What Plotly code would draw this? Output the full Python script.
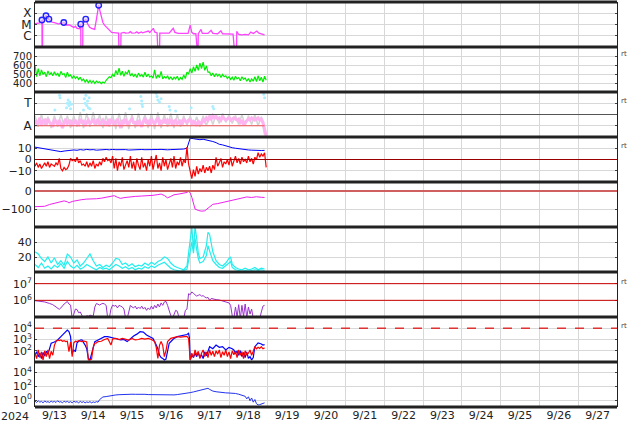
import plotly.graph_objects as go
from plotly.subplots import make_subplots
import pandas as pd

T0 = pd.Timestamp("2024-09-13 00:00")
X_START, X_END = "2024-09-13 00:00", "2024-09-28 00:00"
HOURLY = list(range(144))
BIHOURLY = list(range(0, 144, 2))

# ---------- panel 1: X-ray flux (W/m^2) ----------
xray_hours = [0, 1, 2, 3, 4, 4.3, 4.4, 4.6, 4.7, 5.5, 6.3, 6.8, 7.5, 8.6, 9.5, 10.5, 12, 13.5, 14.8, 15.5,
              16.5, 17.8, 18.8, 19.7, 21, 22.8, 24, 25, 26, 27.7, 28.0, 28.3, 28.4, 29.5, 29.6, 30.5, 31.4,
              32.5, 33.8, 35, 36.9, 37.8, 38.6, 39.4, 40, 41.2, 42, 43, 44.5, 45.5, 47.4, 50, 51.7, 52, 53,
              53.2, 55, 56, 58, 59, 60, 62, 63, 64, 65.8, 66.5, 68, 70.1, 71, 73.2, 74, 75.5, 76.2, 77, 77.2,
              79, 81, 83, 85.5, 86.5, 88.6, 91, 93, 94.7, 96, 97, 98, 99.5, 100, 100.8, 101, 102.7, 103.5,
              105, 107, 108.9, 110, 113, 115, 116, 119.3, 121, 122.5, 123.8, 124.6, 124.8, 126, 128, 130,
              132, 133.5, 135, 137.2, 138.5, 140, 142]
xray_flux = [1.2e-5, 1.25e-5, 1.3e-5, 1.4e-5, 2.0e-5, 2.5e-5, 1e-8, 1e-8, 2.2e-5, 3.5e-5, 5e-5, 6e-5, 4e-5,
             3e-5, 2.2e-5, 1.6e-5, 1.5e-5, 1.3e-5, 1.1e-5, 1.3e-5, 1.2e-5, 1.5e-5, 1.1e-5, 8.7e-6, 9.5e-6,
             6.5e-6, 5.5e-6, 7e-6, 4.6e-6, 4.2e-6, 6e-6, 1.07e-5, 1e-8, 1e-8, 1.2e-5, 2e-5, 3e-5, 1.2e-5,
             5.6e-6, 4.5e-6, 3.7e-6, 2e-5, 1.5e-4, 5.2e-4, 2e-4, 3.5e-5, 1.5e-5, 8.7e-6, 5e-6, 3.7e-6, 2e-6,
             1.8e-6, 1.7e-6, 1e-8, 1e-8, 1.7e-6, 2e-6, 1.7e-6, 1.8e-6, 2.3e-6, 1.7e-6, 1.8e-6, 2.2e-6,
             1.7e-6, 2.2e-6, 1.8e-6, 2.0e-6, 2.6e-6, 1.9e-6, 4.6e-6, 2.2e-6, 1.8e-6, 1e-8, 1e-8, 1.7e-6,
             1.7e-6, 1.6e-6, 1.7e-6, 4.6e-6, 2e-6, 1.6e-6, 1.5e-6, 1.6e-6, 1.6e-6, 8.7e-6, 2e-6, 1.5e-6,
             1.5e-6, 1e-8, 1e-8, 1.5e-6, 3.7e-6, 1.6e-6, 1.5e-6, 1.6e-6, 3e-6, 1.6e-6, 1.5e-6, 2.8e-6,
             1.5e-6, 1.4e-6, 1.4e-6, 1.4e-6, 1e-8, 1e-8, 2.5e-6, 1.3e-6, 1.2e-6, 1.3e-6, 1.2e-6, 2.1e-6,
             1.6e-6, 2.6e-6, 1.7e-6, 1.4e-6, 1.2e-6]
flare_hours = [4.3, 6.8, 8.6, 17.8, 28.3, 31.4, 39.4]
flare_flux = [2.5e-5, 6e-5, 3e-5, 1.5e-5, 1.07e-5, 3e-5, 5.2e-4]

# ---------- panel 2: solar wind speed (km/s), hourly ----------
speed = [600, 470, 560, 480, 545, 495, 520, 470, 535, 490, 515, 480,
         525, 485, 510, 470, 530, 495, 505, 460, 520, 475, 490, 455,
         480, 450, 470, 440, 465, 425, 445, 410, 435, 405, 430, 400,
         425, 395, 420, 405, 415, 392, 410, 400, 430, 445, 470, 460,
         495, 470, 540, 490, 565, 485, 530, 475, 520, 500, 545, 480,
         505, 470, 500, 460, 510, 475, 495, 465, 520, 470, 500, 465,
         480, 455, 545, 450, 490, 460, 530, 445, 470, 455, 480, 440,
         470, 435, 465, 445, 475, 430, 460, 440, 490, 450, 520, 500,
         560, 510, 580, 530, 600, 540, 620, 560, 633, 540, 590, 520,
         520, 480, 510, 470, 505, 475, 500, 460, 495, 470, 480, 450,
         470, 440, 465, 430, 475, 445, 460, 425, 470, 440, 455, 420,
         450, 410, 445, 420, 470, 415, 480, 425, 465, 410, 475, 430]

# ---------- panel 3: T / A levels ----------
mag_pink = [1.5, 1.2, 1.3, 1.7, 1.0, 1.4, 1.5, 1.1, 1.6, 1.3, 1.2, 0.9,
            1.6, 1.4, 1.1, 1.5, 1.2, 0.8, 1.3, 1.6, 1.2, 1.4, 1.5, 1.0,
            1.3, 1.5, 1.2, 1.1, 1.6, 1.3, 1.4, 1.0, 1.3, 1.5, 1.2, 1.4,
            1.5, 1.2, 1.3, 1.6, 1.1, 1.3, 1.5, 1.2, 1.4, 1.0, 1.6, 1.3,
            1.5, 1.1, 1.4, 1.6, 1.2, 0.8, 1.5, 1.3, 1.6, 1.1, 1.3, 1.5,
            1.6, 1.2, 1.4, 1.0, 1.5, 1.3, 0.9, 1.4, 1.7, 1.2, 1.5, 1.1,
            1.6, 1.3, 1.2, 1.5, 1.7, 1.1, 1.4, 1.3, 1.6, 1.2, 1.5, 1.3,
            1.6, 1.0, 1.4, 1.5, 1.2, 1.3, 1.5, 1.1, 1.6, 1.4, 1.3, 1.5,
            1.5, 1.2, 1.4, 1.3, 1.0, 1.4, 1.3, 1.2, 1.6, 1.4, 1.7, 1.5,
            1.8, 1.6, 1.9, 1.7, 1.8, 1.6, 1.7, 1.5, 1.8, 1.6, 1.5, 1.6,
            1.7, 1.5, 1.6, 1.7, 1.6, 1.5, 1.6, 1.3, 1.5, 1.1, 1.3, 1.5,
            1.6, 1.5, 1.7, 1.6, 1.5, 1.6, 1.7, 1.5, 1.6, 1.3, 0.6, 0.1]
mag_gray = [1.9, 0.9, 2.0, 1.0, 1.8, 0.8, 1.9, 0.9, 2.0, 1.0, 1.9, 0.8,
            1.9, 0.9, 2.2, 0.8, 2.1, 0.9, 2.2, 1.0, 2.0, 0.8, 1.9, 0.9,
            2.0, 0.7, 2.1, 0.8, 2.2, 0.7, 2.0, 0.8, 2.1, 0.9, 2.0, 0.8,
            2.1, 0.7, 2.2, 0.8, 2.0, 0.9, 2.1, 0.8, 2.0, 0.9, 1.9, 1.0,
            1.9, 1.0, 1.8, 0.9, 1.9, 1.0, 2.0, 1.1, 2.0, 1.2, 2.1, 1.3,
            2.0, 1.2, 1.9, 1.1, 2.0, 1.0, 1.9, 1.1, 2.0, 1.0, 1.8, 0.2]
cyan_hours = [12.3, 15.2, 15.5, 19.5, 20, 20.5, 21, 21.5, 22, 22.5, 30, 30.5, 31, 31.5, 32, 32.5, 33, 33.5,
              34, 58.5, 65.5, 66, 66.2, 66.5, 75, 75.5, 76, 77, 78, 83, 83.5, 87, 96.6, 110, 110.5, 141.5, 142]
cyan_vals = [2.4, 3.7, 3.5, 2.6, 3.0, 3.3, 2.8, 3.1, 2.5, 2.9, 2.4, 3.4, 3.0, 3.7, 2.8, 3.2, 2.6, 3.5,
             2.5, 2.5, 3.6, 3.2, 2.9, 2.7, 3.9, 3.6, 3.3, 3.1, 3.4, 2.7, 2.4, 2.3, 2.6, 2.7, 2.5, 3.8, 3.5]
a_level = 1
t_a_split = 2

# ---------- panel 4: IMF Bt (2-hourly) and Bz (hourly), nT ----------
bt = [11, 10.5, 10, 9.8, 9, 8.7, 8.3, 7.8, 7, 7.5, 8, 8.3,
      8.5, 8.2, 8.8, 8.4, 9, 8.6, 8.8, 8.3, 8.7, 8.5, 8.9, 8.6,
      9, 8.7, 8.9, 8.5, 8.8, 8.4, 8.6, 8.8, 8.5, 8.9, 8.7, 8.6,
      8.8, 8.5, 8.9, 9, 8.7, 8.6, 8.8, 8.9, 9.2, 9.5, 9.3, 10,
      19, 18.5, 18, 17.6, 18, 17.5, 17, 16, 15, 13.5, 13, 12,
      11, 10.5, 10, 9.5, 9, 8.8, 8.5, 8.3, 8, 8.2, 8, 8.1]
bz = [-6, -3, -7, -4, -8, -5, -3, -6, -2, -7, -4, -5,
      -6, -3, -5, 1, -8, -10, -7, -9, -8, -5, 1, -1,
      0, -2, 2, -3, -1, -5, -4, -6, -2, -7, -3, -6,
      -1, -8, -4, -6, -2, -5, 1, -2, 2, -1, 0, -3,
      3, -8, 1, -10, -2, -6, 2, -9, -4, -1, -7, 3,
      -8, -2, -10, 1, -5, -9, 2, -7, -3, -10, 0, -6,
      3, -9, -2, 4, -8, -3, -10, 2, -6, 0, -9, -4,
      1, -7, 3, -8, -2, -5, 2, -6, 0, -3, 11, -4,
      -12, -17, -9, -15, -6, -13, -8, -11, -5, -12, -7, -10,
      -6, -12, -5, -9, 2, -6, -3, 1, -7, -2, -4, 0,
      -5, 2, -6, -1, 3, -3, 1, -4, 2, -2, 0, -3,
      3, -2, 1, -4, 2, 0, 6, 2, 5, 3, 6, -7]

# ---------- panel 5: Dst (nT) ----------
dst_hours = [0, 3, 6, 9, 12, 15, 18, 20, 21, 23, 26, 29, 32, 35, 38, 41, 44, 47, 49, 51, 53, 55, 58, 62,
             66, 70, 73, 76, 78, 80, 82, 84, 86, 89, 92, 94, 95, 96, 97, 98, 99, 101, 103, 105, 107, 109,
             110, 113, 116, 119, 121, 123, 126, 129, 131, 134, 137, 140, 142]
dst_vals = [-87, -88, -85, -75, -68, -62, -55, -60, -66, -58, -52, -48, -45, -46, -43, -40, -36, -31, -26,
            -35, -41, -37, -33, -30, -28, -27, -24, -20, -17, -25, -38, -30, -21, -17, -13, -8, -2, -10,
            -35, -70, -100, -108, -112, -110, -97, -82, -74, -70, -64, -58, -52, -46, -42, -37, -33, -36,
            -32, -35, -36]

# ---------- panel 6: density-like (cyan, two traces) ----------
den_hours = [0, 2, 4, 6, 8, 10, 12, 14, 16, 18, 20, 22, 24, 26, 28, 30, 32, 34, 36, 38, 40, 42, 44, 46,
             48, 50, 52, 54, 56, 58, 60, 62, 64, 66, 68, 70, 72, 74, 76, 78, 80, 82, 84, 86, 88, 90, 92,
             94, 95, 96, 97, 98, 99, 100, 101, 102, 104, 106, 107, 108, 109, 110, 112, 114, 116, 118,
             120, 121, 122, 124, 126, 128, 130, 132, 134, 136, 138, 140, 142]
den_a = [27, 24, 18, 14, 20, 12, 19, 10, 15, 9, 24, 20, 12, 16, 8, 12, 18, 24, 15, 8, 10, 6, 9, 7,
         12, 18, 17, 10, 12, 8, 11, 7, 9, 8, 12, 9, 13, 10, 14, 16, 20, 18, 12, 8, 6, 4, 3,
         8, 25, 45, 60, 30, 60, 45, 25, 18, 20, 35, 53, 50, 40, 27, 15, 10, 8, 12,
         18, 20, 10, 6, 4, 3, 5, 3, 4, 6, 3, 5, 4]
den_b = [10, 6, 12, 5, 8, 4, 9, 6, 11, 5, 14, 8, 5, 9, 4, 6, 10, 7, 5, 3, 6, 4, 5, 3,
         6, 10, 8, 5, 7, 4, 6, 3, 5, 4, 7, 5, 8, 6, 9, 11, 13, 9, 5, 3, 2, 1, 2,
         4, 15, 30, 40, 25, 45, 30, 18, 12, 14, 22, 35, 28, 22, 15, 10, 6, 5, 8,
         12, 14, 6, 3, 2, 1, 2, 1, 2, 3, 2, 3, 2]

# ---------- panel 7: electron flux ----------
elec_hours = [0, 3, 6, 9, 11, 13, 15, 16, 18, 20, 21, 22, 22.5, 23, 24, 25, 26, 27, 28, 29, 30, 31, 32,
              33, 34, 36, 37, 38, 39, 40, 41, 42, 43, 44, 45, 46, 47, 48, 49, 50, 51, 52, 53, 54, 55,
              56, 57, 58, 59, 60, 61, 62, 63, 64, 65, 66, 67, 68, 69, 70, 71, 72, 73, 74, 75, 76, 77,
              78, 79, 80, 81, 82, 83, 84, 85, 86, 87, 88, 89, 90, 91, 92, 93, 94, 95, 96, 97, 98, 99,
              100, 101, 102, 103, 104, 105, 106, 107, 108, 109, 110, 112, 114, 116, 118, 120, 121, 122,
              123, 124, 125, 126, 127, 128, 129, 130, 131, 132, 133, 134, 135, 136, 137, 138, 139, 140,
              141, 142]
elec_flux = [9.5e5, 9e5, 8e5, 6.5e5, 5.5e5, 4e5, 2.9e5, 3.5e5, 6e5, 8.5e5, 6e5, 5.2e5, 2e5, 8e4, 1.5e5,
             3e5, 2.8e5, 1.8e5, 2e5, 1.1e5, 8e4, 9e4, 1.2e5, 1.1e5, 1.3e5, 1.1e5, 4e5, 6.5e5, 6e5,
             5.2e5, 6e5, 6.6e5, 6e5, 5e5, 8e4, 9e4, 3e5, 5.2e5, 4.5e5, 5e5, 3.5e5, 5e5, 4.5e5, 4e5,
             3e5, 9e4, 8e4, 2e5, 5e5, 4e5, 3.5e5, 4.5e5, 3e5, 4e5, 3.2e5, 4.5e5, 3e5, 3.8e5, 2.5e5,
             3.5e5, 2.8e5, 4.5e5, 3e5, 5e5, 3.5e5, 6e5, 4e5, 7e5, 5e5, 8e5, 8.7e5, 5e5, 2e5, 1.2e5,
             8e4, 1.5e5, 2.5e5, 2.2e5, 1e5, 8e4, 1.1e5, 8e4, 2.5e5, 3e5, 2.5e6, 2.2e6, 3.2e6, 2.6e6,
             2.1e6, 1.8e6, 2e6, 2.2e6, 1.8e6, 1.9e6, 1.6e6, 1.4e6, 1.5e6, 1e6, 1.3e6, 1.2e6, 1.1e6,
             1.05e6, 9e5, 8e5, 7e5, 5e5, 1.2e5, 8e4, 4e5, 1e5, 5.5e5, 8e4, 5e5, 1.1e5, 6e5, 9e4, 4e5,
             1.5e5, 3e5, 8e4, 9e4, 1.1e5, 9e4, 8e4, 2e5, 4.5e5, 5e5]

# ---------- panel 8: particle flux (blue / red) ----------
pb_hours = [0, 1, 2, 3, 4, 5, 6, 7, 8, 10, 12, 14, 16, 18, 19, 20, 21, 22, 22.5, 23, 24, 25, 26, 27, 28,
            29, 30, 31, 32, 33, 34, 35, 36, 37, 39, 41, 43, 45, 47, 49, 51, 53, 55, 57, 59, 61, 63, 65,
            67, 69, 71, 73, 75, 76, 77, 78, 79, 80, 81, 82, 83, 85, 86, 88, 90, 92, 94, 95, 95.5, 96,
            97, 98, 99, 100, 101, 102, 103, 104, 105, 106, 107, 108, 110, 112, 114, 116, 118, 120, 122,
            123, 124, 125, 126, 127, 128, 129, 130, 131, 132, 133, 134, 135, 136, 138, 140, 141, 142]
pb_flux = [42, 83, 30, 60, 20, 70, 35, 90, 50, 460, 600, 910, 1780, 3550, 5500, 6900, 5000, 1780, 200,
           59, 117, 83, 500, 650, 900, 910, 600, 320, 150, 21, 15, 59, 300, 650, 910, 1260, 1780, 1800,
           1600, 1260, 1100, 910, 1000, 650, 1260, 2000, 3000, 4900, 4500, 2500, 1780, 1260, 320, 150,
           42, 25, 21, 15, 18, 117, 460, 910, 1260, 1780, 2000, 2500, 2800, 3550, 1500, 15, 40, 25, 60,
           30, 70, 25, 45, 20, 80, 35, 90, 230, 150, 320, 200, 230, 117, 200, 150, 117, 60, 90, 40,
           100, 30, 70, 25, 80, 21, 30, 15, 25, 230, 500, 400, 320, 350]
pr_hours = [0, 1, 2, 3, 4, 5, 6, 7, 8, 9, 10, 11, 12, 13, 14, 15, 16, 17, 18, 19, 20, 21, 22, 23, 24, 25,
            26, 27, 28, 29, 30, 31, 32, 33, 34, 35, 36, 37, 38, 39, 41, 43, 45, 47, 48, 50, 52, 54, 56,
            58, 60, 62, 64, 66, 68, 70, 72, 74, 75, 76, 77, 78, 79, 80, 81, 82, 84, 86, 88, 90, 92, 94,
            95, 95.5, 96, 97, 98, 99, 100, 101, 102, 103, 104, 105, 106, 107, 108, 109, 110, 111, 112,
            113, 114, 115, 116, 117, 118, 119, 120, 121, 122, 123, 124, 125, 126, 127, 128, 129, 130,
            131, 132, 133, 134, 135, 136, 137, 138, 139, 140, 141, 142]
pr_flux = [60, 20, 117, 25, 80, 15, 100, 30, 117, 20, 90, 40, 300, 650, 910, 800, 910, 700, 800, 650,
           700, 83, 600, 30, 500, 700, 650, 800, 700, 650, 750, 650, 600, 15, 15, 18, 200, 460, 500,
           650, 700, 1000, 1260, 320, 1100, 1260, 1000, 1260, 1100, 900, 1260, 910, 1000, 1260, 1100,
           1260, 1000, 650, 200, 21, 300, 650, 300, 30, 100, 650, 1260, 1500, 1780, 1600, 1780, 1900,
           1260, 100, 15, 60, 25, 117, 40, 90, 20, 60, 117, 30, 80, 25, 117, 40, 90, 30, 100, 50, 117,
           25, 83, 40, 117, 30, 80, 20, 100, 45, 90, 25, 117, 40, 83, 20, 100, 45, 60, 117, 40, 90,
           230, 150, 200, 160, 230, 150, 180]

# ---------- panel 9: bottom flux (blue) ----------
bot_hours = list(range(0, 41)) + [41, 42, 44, 46, 48, 50, 52, 54, 56, 58, 60, 62, 64, 66, 68, 70, 72, 74,
                                  76, 78, 80, 82, 84, 86, 88, 90, 92, 94, 96, 98, 100, 102, 104, 106,
                                  107, 108, 110, 112, 114, 116, 118, 120, 122, 124, 126, 128, 129, 130,
                                  131, 132, 133, 134, 135, 136, 137, 138, 139, 140, 141, 142]
bot_flux = [0.7, 0.45, 0.8, 0.5, 0.65, 0.4, 0.75, 0.5, 0.6, 0.45, 0.7, 0.5, 0.65, 0.45, 0.8, 0.5, 0.6,
            0.4, 0.7, 0.5, 0.65, 0.45, 0.6, 0.4, 0.7, 0.5, 0.6, 0.4, 0.65, 0.45, 0.6, 0.4, 0.55, 0.45,
            0.6, 0.4, 0.55, 0.45, 0.6, 0.5, 1.2,
            2.2, 2.8, 3.2, 4.0, 4.8, 5.5, 6.0, 6.5, 7.0, 7.2, 7.0, 6.8, 7.2, 6.5, 6.8, 6.2, 6.0, 6.5,
            6.0, 5.8, 5.5, 5.8, 5.5, 5.6, 6.2, 7.0, 8.0, 9.5, 12, 15, 20, 26, 35, 45, 50, 35, 20, 16,
            13, 12, 11, 10.5, 10, 9, 7, 5, 4, 3.5, 1.5, 3, 0.8, 2, 0.5, 1.2, 0.3, 0.2, 0.22, 0.25, 0.3,
            0.4]


def tt(hours):
    return [T0 + pd.Timedelta(hours=h) for h in hours]


fig = make_subplots(rows=9, cols=1, shared_xaxes=True, vertical_spacing=0)

# panel 1
fig.add_trace(go.Scatter(x=tt(xray_hours), y=xray_flux, mode="lines",
                         line=dict(color="#ff44ff", width=1.3)), row=1, col=1)
fig.add_trace(go.Scatter(x=tt(flare_hours), y=flare_flux, mode="markers",
                         marker=dict(symbol="circle", size=5.5, color="rgba(215,215,255,0.6)",
                                     line=dict(color="#2222ff", width=1.4))), row=1, col=1)
# panel 2
fig.add_trace(go.Scatter(x=tt(HOURLY), y=speed, mode="lines",
                         line=dict(color="#00ee00", width=1.2)), row=2, col=1)
# panel 3
fig.add_trace(go.Scatter(x=tt(BIHOURLY), y=mag_gray, mode="lines",
                         line=dict(color="#d4d4d4", width=1.5)), row=3, col=1)
fig.add_trace(go.Scatter(x=tt(HOURLY), y=mag_pink, mode="lines",
                         line=dict(color="#ffb3f0", width=3)), row=3, col=1)
fig.add_trace(go.Scatter(x=tt(cyan_hours), y=cyan_vals, mode="markers",
                         marker=dict(color="#aaeeff", size=3)), row=3, col=1)
fig.add_trace(go.Scatter(x=tt([HOURLY[0], HOURLY[-2]]), y=[a_level, a_level], mode="lines",
                         line=dict(color="#ee5555", width=1)), row=3, col=1)
# panel 4
fig.add_trace(go.Scatter(x=tt(BIHOURLY), y=bt, mode="lines",
                         line=dict(color="#0000ff", width=1)), row=4, col=1)
fig.add_trace(go.Scatter(x=tt(HOURLY), y=bz, mode="lines",
                         line=dict(color="#ff0000", width=1.2)), row=4, col=1)
# panel 5
fig.add_trace(go.Scatter(x=tt(dst_hours), y=dst_vals, mode="lines",
                         line=dict(color="#ee22ee", width=1)), row=5, col=1)
# panel 6
fig.add_trace(go.Scatter(x=tt(den_hours), y=den_a, mode="lines",
                         line=dict(color="#22eeee", width=1.2)), row=6, col=1)
fig.add_trace(go.Scatter(x=tt(den_hours), y=den_b, mode="lines",
                         line=dict(color="#22eeee", width=1.2)), row=6, col=1)
# panel 7
fig.add_trace(go.Scatter(x=tt(elec_hours), y=elec_flux, mode="lines",
                         line=dict(color="#9933cc", width=1)), row=7, col=1)
# panel 8
fig.add_trace(go.Scatter(x=tt(pb_hours), y=pb_flux, mode="lines",
                         line=dict(color="#0000ff", width=1.2)), row=8, col=1)
fig.add_trace(go.Scatter(x=tt(pr_hours), y=pr_flux, mode="lines",
                         line=dict(color="#ff0000", width=1.2)), row=8, col=1)
# panel 9
fig.add_trace(go.Scatter(x=tt(bot_hours), y=bot_flux, mode="lines",
                         line=dict(color="#2233ee", width=1)), row=9, col=1)

# reference lines
fig.add_shape(type="line", xref="x3 domain", x0=0, x1=1, yref="y3", y0=t_a_split, y1=t_a_split,
              line=dict(color="#555555", width=1))
fig.add_shape(type="line", xref="x4 domain", x0=0, x1=1, yref="y4", y0=0, y1=0,
              line=dict(color="#990000", width=1))
fig.add_shape(type="line", xref="x5 domain", x0=0, x1=1, yref="y5", y0=0, y1=0,
              line=dict(color="#d06060", width=2))
for lvl in [1e6, 1e7]:
    fig.add_shape(type="line", xref="x7 domain", x0=0, x1=1, yref="y7", y0=lvl, y1=lvl,
                  line=dict(color="#cc0000", width=1))
fig.add_shape(type="line", xref="x8 domain", x0=0, x1=1, yref="y8", y0=1e4, y1=1e4,
              line=dict(color="#dd3333", width=1.5, dash="dash"))

# thick panel separators
for k in range(10):
    fig.add_shape(type="line", xref="paper", x0=0, x1=1, yref="paper", y0=k / 9, y1=k / 9,
                  line=dict(color="#222", width=3))

FONT = dict(family="DejaVu Sans", size=10, color="#222")
for i in range(1, 10):
    fig.update_xaxes(row=i, col=1, type="date", range=[X_START, X_END], showgrid=True,
                     gridcolor="#d8d8d8", gridwidth=1, dtick=86400000, tick0=X_START,
                     showline=False, ticks="", zeroline=False,
                     showticklabels=(i == 9))
    fig.update_yaxes(row=i, col=1, showgrid=True, gridcolor="#d8d8d8", gridwidth=1,
                     showline=True, linecolor="#222", linewidth=1, mirror="allticks",
                     ticks="inside", ticklen=2, tickcolor="#444", zeroline=False,
                     tickfont=FONT)

fig.update_xaxes(row=9, col=1, ticklabelmode="period", tickformat="%-m/%-d",
                 tickfont=dict(family="DejaVu Sans", size=11, color="#222"))

MINUS = "\u2212"
fig.update_yaxes(row=1, col=1, type="log", range=[-7, -3], tickvals=[1e-4, 1e-5, 1e-6],
                 ticktext=["X", "M", "C"], tickfont=dict(family="DejaVu Sans", size=12, color="#222"))
fig.update_yaxes(row=2, col=1, range=[300, 800], tickvals=[400, 500, 600, 700])
fig.update_yaxes(row=3, col=1, range=[0, 4], tickvals=[1, 3], ticktext=["A", "T"],
                 tickfont=dict(family="DejaVu Sans", size=12, color="#222"))
fig.update_yaxes(row=4, col=1, range=[-20, 20], tickvals=[-10, 0, 10],
                 ticktext=[MINUS + "10", "0", "10"], tickfont=dict(family="DejaVu Sans", size=11, color="#222"))
fig.update_yaxes(row=5, col=1, range=[-200, 50], tickvals=[-100, 0], ticktext=[MINUS + "100", "0"],
                 tickfont=dict(family="DejaVu Sans", size=11, color="#222"))
fig.update_yaxes(row=6, col=1, range=[0, 60], tickvals=[20, 40],
                 tickfont=dict(family="DejaVu Sans", size=11, color="#222"))
fig.update_yaxes(row=7, col=1, type="log", range=[5, 7.7], tickvals=[1e6, 1e7],
                 ticktext=["10<sup>6</sup>", "10<sup>7</sup>"],
                 tickfont=dict(family="DejaVu Sans", size=11, color="#222"))
fig.update_yaxes(row=8, col=1, type="log", range=[1, 5], tickvals=[1e2, 1e3, 1e4],
                 ticktext=["10<sup>2</sup>", "10<sup>3</sup>", "10<sup>4</sup>"],
                 tickfont=dict(family="DejaVu Sans", size=11, color="#222"))
fig.update_yaxes(row=9, col=1, type="log", range=[-1, 5.5], tickvals=[1, 1e2, 1e4],
                 ticktext=["10<sup>0</sup>", "10<sup>2</sup>", "10<sup>4</sup>"],
                 tickfont=dict(family="DejaVu Sans", size=11, color="#222"))

annots = [dict(text="2024", xref="paper", x=0, xanchor="right", xshift=-4,
               yref="paper", y=0, yanchor="top", yshift=-1, showarrow=False,
               font=dict(family="DejaVu Sans", size=11, color="#222"))]
for yref, yv in [("y2", 700), ("y3", 3), ("y4", 10), ("y7", 7), ("y8", 4)]:
    annots.append(dict(text="rt", xref="paper", x=1, xanchor="left", xshift=2, yref=yref, y=yv,
                       yshift=2, showarrow=False,
                       font=dict(family="DejaVu Sans", size=7, color="#444")))

fig.update_layout(width=634, height=424, margin=dict(l=33, r=17, t=2, b=17),
                  paper_bgcolor="white", plot_bgcolor="white", showlegend=False,
                  annotations=annots)

fig.write_html("out.html", config={"displayModeBar": False},
               post_script="document.body.style.margin='0';document.body.style.padding='0';")
